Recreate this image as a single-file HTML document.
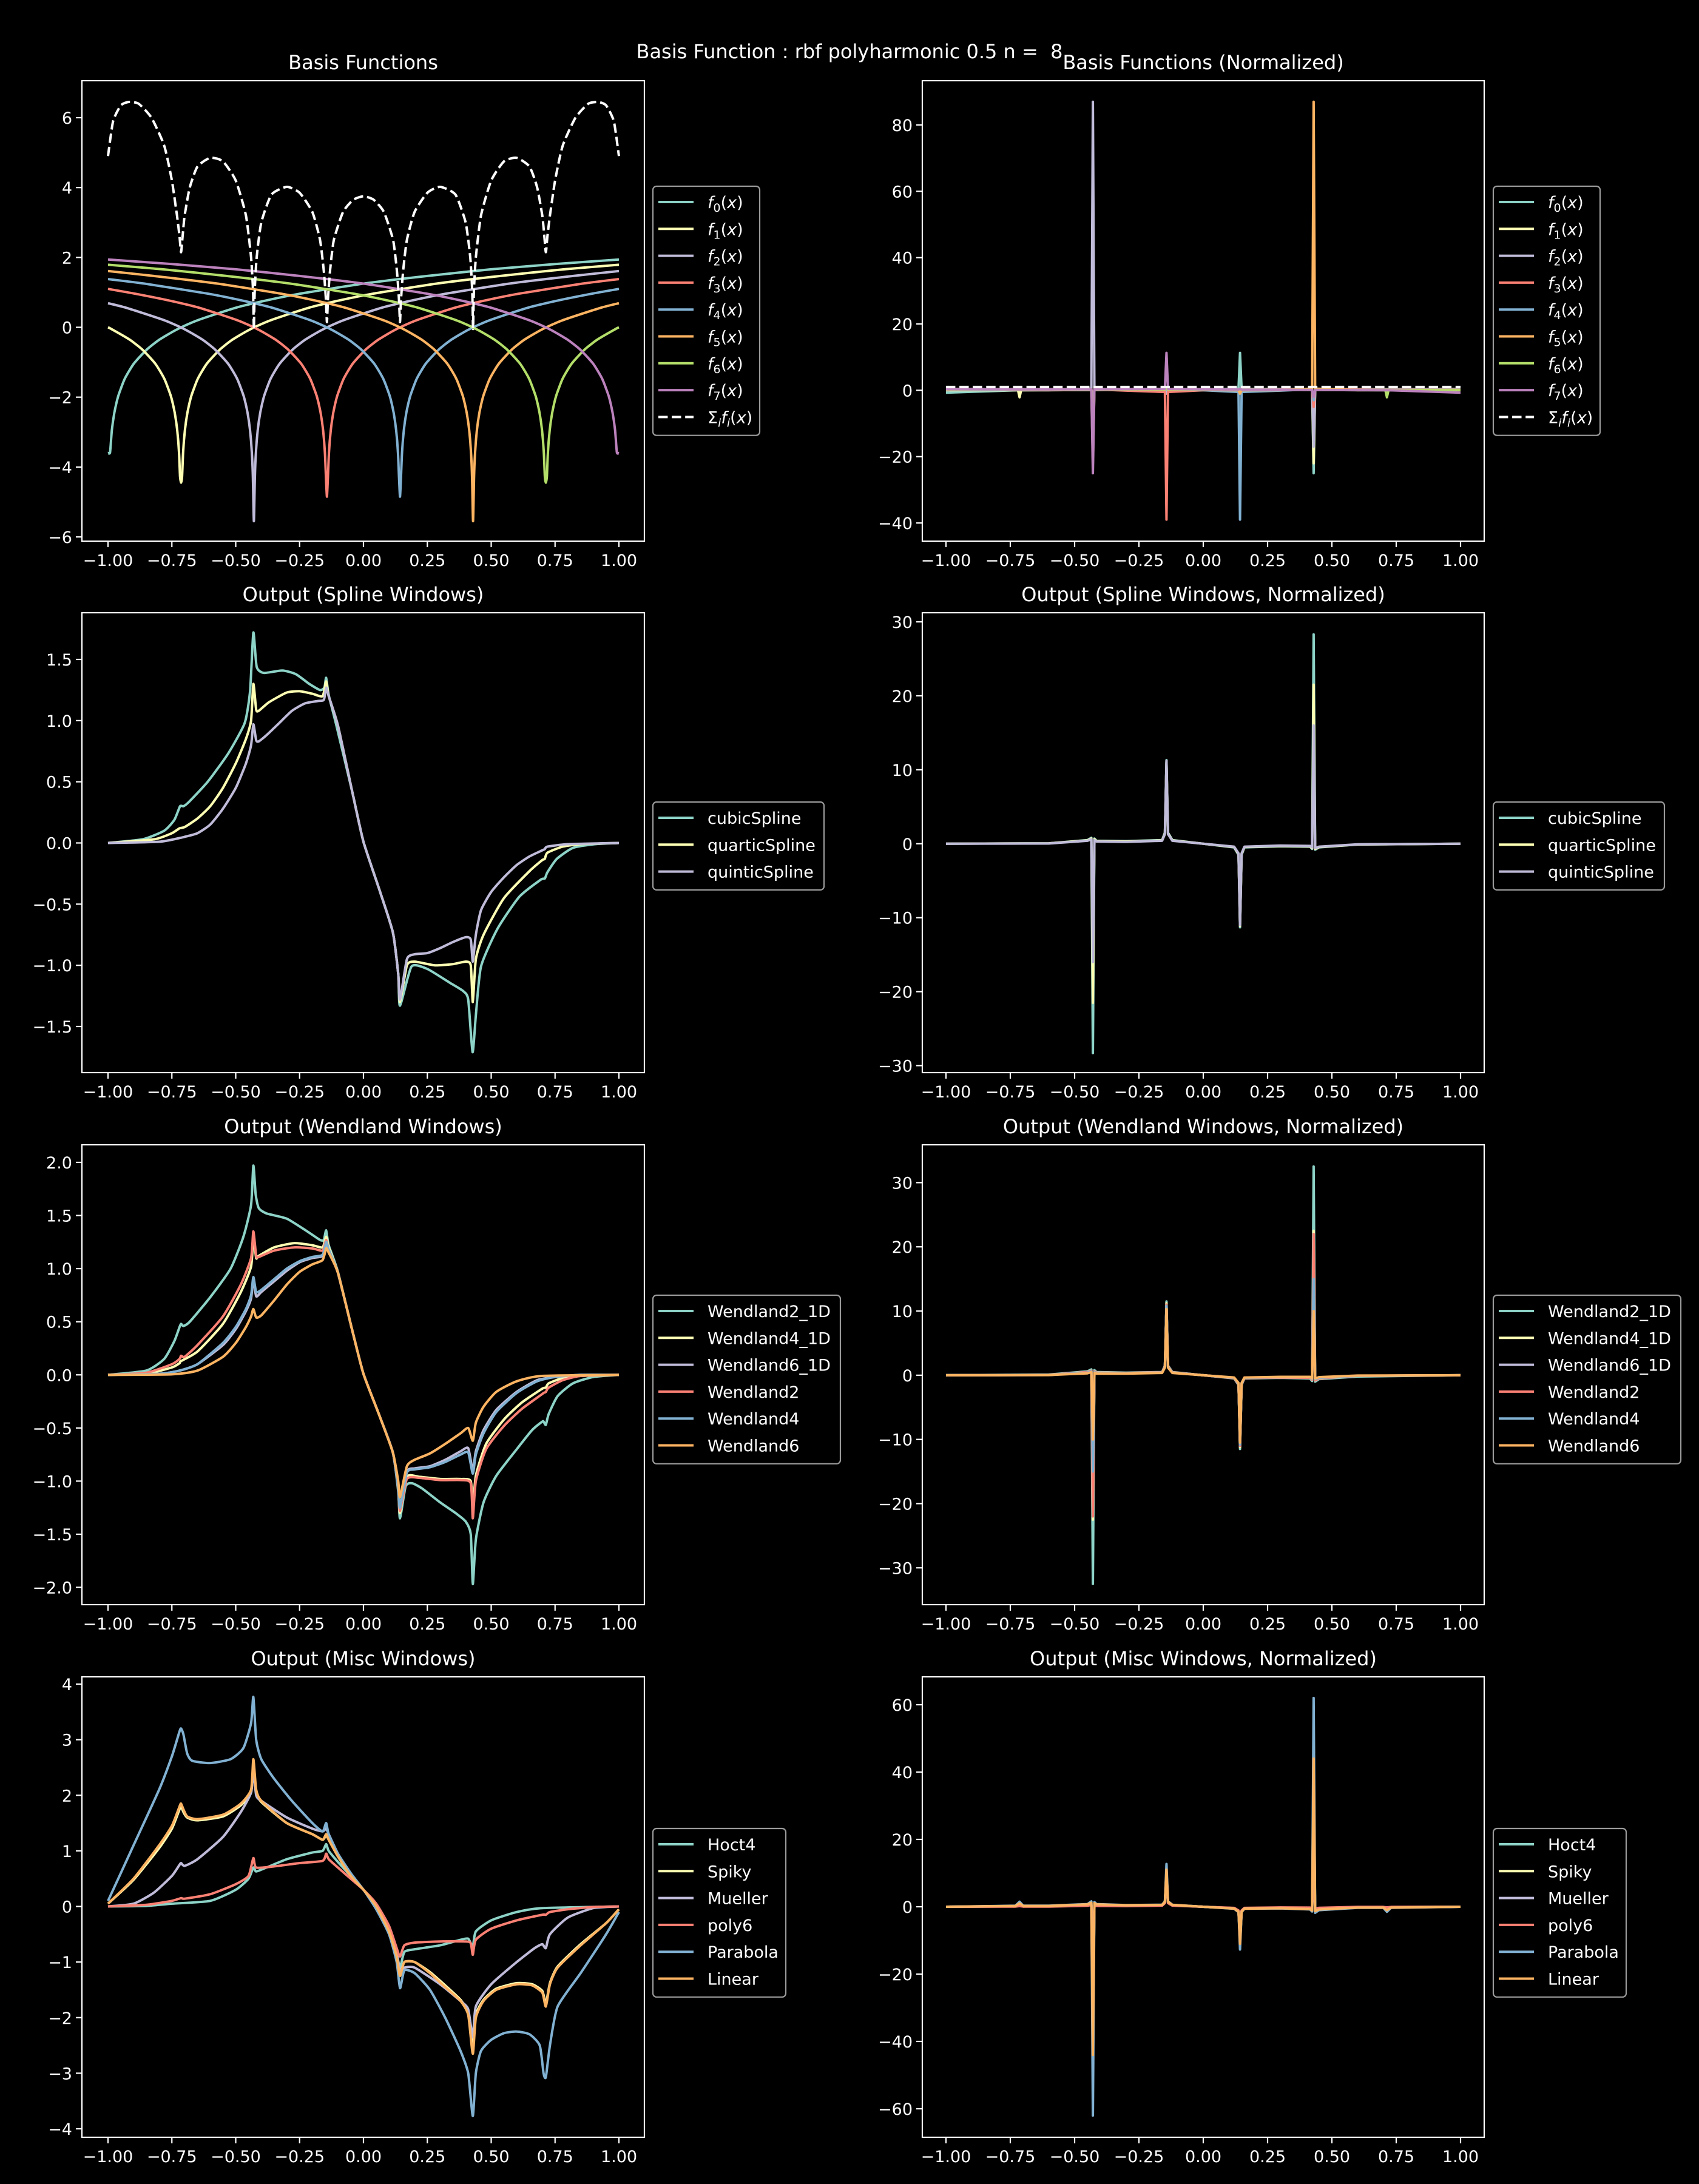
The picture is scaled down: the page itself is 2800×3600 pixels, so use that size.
<!DOCTYPE html>
<html><head><meta charset="utf-8"><style>
html,body{margin:0;padding:0;background:#000;}
svg{display:block;}
text{font-family:"DejaVu Sans","Liberation Sans",sans-serif;fill:#fff;}
</style></head><body>
<svg id="fig" xmlns="http://www.w3.org/2000/svg" width="2800" height="3600" viewBox="0 0 2800 3600">
<rect x="0" y="0" width="2800" height="3600" fill="#000"/>
<text x="1400" y="96" font-size="32" text-anchor="middle" style="white-space:pre" xml:space="preserve">Basis Function : rbf polyharmonic 0.5 n =  8</text>
</svg>
<script>
// ---------- shared tick data ----------
const xTickVals=[-1,-0.75,-0.5,-0.25,0,0.25,0.5,0.75,1];
const xTickLabels=["\u22121.00","\u22120.75","\u22120.50","\u22120.25","0.00","0.25","0.50","0.75","1.00"];
const colors=["#8dd3c7","#feffb3","#bfbbd9","#fa8174","#81b1d2","#fdb462","#b3de69","#bc82bd"];

// ---------- panel 1: basis functions ----------
const f0X=[-1,-0.992,-0.985,-0.975,-0.96,-0.935,-0.9,-0.85,-0.8,-0.73,-0.65,-0.5,-0.38,-0.25,0,0.25,0.5,0.75,1];
const f0Y=[-3.6,-3.58,-2.95,-2.44,-1.97,-1.48,-1.05,-0.65,-0.36,-0.06,0.2,0.56,0.77,0.96,1.25,1.47,1.66,1.81,1.94];
const f1X=[-1,-0.984,-0.914,-0.864,-0.814,-0.779,-0.754,-0.739,-0.729,-0.722,-0.718,-0.714,-0.710,-0.706,-0.699,-0.689,-0.674,-0.649,-0.614,-0.564,-0.514,-0.444,-0.364,-0.214,-0.094,0.036,0.286,0.536,0.786,1];
const f1Y=[0,-0.06,-0.36,-0.65,-1.05,-1.48,-1.97,-2.44,-2.95,-3.58,-4.27,-4.45,-4.27,-3.58,-2.95,-2.44,-1.97,-1.48,-1.05,-0.65,-0.36,-0.06,0.2,0.56,0.77,0.96,1.25,1.47,1.66,1.79];
const f2X=[-1,-0.929,-0.779,-0.699,-0.629,-0.579,-0.529,-0.494,-0.469,-0.454,-0.444,-0.437,-0.433,-0.429,-0.425,-0.421,-0.414,-0.404,-0.389,-0.364,-0.329,-0.279,-0.229,-0.159,-0.079,0.071,0.191,0.321,0.571,0.821,1];
const f2Y=[0.69,0.56,0.2,-0.06,-0.36,-0.65,-1.05,-1.48,-1.97,-2.44,-2.95,-3.58,-4.27,-5.55,-4.27,-3.58,-2.95,-2.44,-1.97,-1.48,-1.05,-0.65,-0.36,-0.06,0.2,0.56,0.77,0.96,1.25,1.47,1.61];
const f3X=[-1,-0.893,-0.763,-0.643,-0.493,-0.413,-0.343,-0.293,-0.243,-0.208,-0.183,-0.168,-0.158,-0.151,-0.147,-0.143,-0.139,-0.135,-0.128,-0.118,-0.103,-0.078,-0.043,0.007,0.057,0.127,0.207,0.357,0.477,0.607,0.857,1];
const f3Y=[1.10,0.96,0.77,0.56,0.2,-0.06,-0.36,-0.65,-1.05,-1.48,-1.97,-2.44,-2.95,-3.58,-4.27,-4.85,-4.27,-3.58,-2.95,-2.44,-1.97,-1.48,-1.05,-0.65,-0.36,-0.06,0.2,0.56,0.77,0.96,1.25,1.38];
const f4X=[-1,-0.857,-0.607,-0.477,-0.357,-0.207,-0.127,-0.057,-0.007,0.043,0.078,0.103,0.118,0.128,0.135,0.139,0.143,0.147,0.151,0.158,0.168,0.183,0.208,0.243,0.293,0.343,0.413,0.493,0.643,0.763,0.893,1];
const f4Y=[1.38,1.25,0.96,0.77,0.56,0.2,-0.06,-0.36,-0.65,-1.05,-1.48,-1.97,-2.44,-2.95,-3.58,-4.27,-4.85,-4.27,-3.58,-2.95,-2.44,-1.97,-1.48,-1.05,-0.65,-0.36,-0.06,0.2,0.56,0.77,0.96,1.10];
const f5X=[-1,-0.821,-0.571,-0.321,-0.191,-0.071,0.079,0.159,0.229,0.279,0.329,0.364,0.389,0.404,0.414,0.421,0.425,0.429,0.433,0.437,0.444,0.454,0.469,0.494,0.529,0.579,0.629,0.699,0.779,0.929,1];
const f5Y=[1.61,1.47,1.25,0.96,0.77,0.56,0.2,-0.06,-0.36,-0.65,-1.05,-1.48,-1.97,-2.44,-2.95,-3.58,-4.27,-5.55,-4.27,-3.58,-2.95,-2.44,-1.97,-1.48,-1.05,-0.65,-0.36,-0.06,0.2,0.56,0.69];
const f6X=[-1,-0.786,-0.536,-0.286,-0.036,0.094,0.214,0.364,0.444,0.514,0.564,0.614,0.649,0.674,0.689,0.699,0.706,0.710,0.714,0.718,0.722,0.729,0.739,0.754,0.779,0.814,0.864,0.914,0.984,1];
const f6Y=[1.79,1.66,1.47,1.25,0.96,0.77,0.56,0.2,-0.06,-0.36,-0.65,-1.05,-1.48,-1.97,-2.44,-2.95,-3.58,-4.27,-4.45,-4.27,-3.58,-2.95,-2.44,-1.97,-1.48,-1.05,-0.65,-0.36,-0.06,0];
const f7X=[-1,-0.75,-0.5,-0.25,0,0.25,0.38,0.5,0.65,0.73,0.8,0.85,0.9,0.935,0.96,0.975,0.985,0.992,1];
const f7Y=[1.94,1.81,1.66,1.47,1.25,0.96,0.77,0.56,0.2,-0.06,-0.36,-0.65,-1.05,-1.48,-1.97,-2.44,-2.95,-3.58,-3.6];
const sumX=[-1,-0.98,-0.95,-0.92,-0.88,-0.83,-0.78,-0.75,-0.73,-0.72,-0.714,-0.708,-0.70,-0.68,-0.65,-0.6,-0.55,-0.5,-0.46,-0.44,-0.432,-0.429,-0.426,-0.418,-0.4,-0.36,-0.3,-0.25,-0.2,-0.17,-0.155,-0.147,-0.143,-0.139,-0.131,-0.116,-0.08,-0.04,0,0.04,0.08,0.116,0.131,0.139,0.143,0.147,0.155,0.17,0.2,0.25,0.3,0.36,0.4,0.418,0.426,0.429,0.432,0.44,0.46,0.5,0.55,0.6,0.65,0.68,0.70,0.708,0.714,0.72,0.73,0.75,0.78,0.83,0.88,0.92,0.95,0.98,1];
const sumY=[4.9,5.9,6.35,6.45,6.4,6.0,5.2,4.2,3.2,2.6,2.15,2.6,3.2,4.0,4.6,4.85,4.75,4.2,3.2,2.0,1.0,-0.05,1.0,2.0,3.0,3.8,4.02,3.85,3.3,2.5,1.6,0.8,0.15,0.8,1.6,2.5,3.3,3.65,3.75,3.65,3.3,2.5,1.6,0.8,0.15,0.8,1.6,2.5,3.3,3.85,4.02,3.8,3.0,2.0,1.0,-0.05,1.0,2.0,3.2,4.2,4.75,4.85,4.6,4.0,3.2,2.6,2.15,2.6,3.2,4.2,5.2,6.0,6.4,6.45,6.35,5.9,4.9];
const p1YTicks=[-6,-4,-2,0,2,4,6];
const p1YLabels=["\u22126","\u22124","\u22122","0","2","4","6"];

// ---------- panel 2: normalized basis ----------
const nX=[-1,-0.72,-0.714,-0.708,-0.6,-0.435,-0.429,-0.423,-0.3,-0.149,-0.143,-0.137,0,0.137,0.143,0.149,0.3,0.423,0.429,0.435,0.6,0.708,0.714,0.72,1];
const n0Y=[-0.7,0,0,0,0.05,0.1,-2,0.1,0.15,0.2,0.5,0.25,0.3,0.4,11.3,0.4,0.35,0.3,-25,0.3,0.3,0.3,0.3,0.3,0.4];
const n1Y=[0,0,-2.1,0,0.05,0.1,-2,0.1,0.15,0.2,0.3,0.2,0.25,0.3,0.5,0.3,0.3,0.3,-22,0.3,0.3,0.3,0.3,0.3,0.37];
const n2Y=[0.14,0.1,0.1,0.1,0.05,0.5,87,0.5,0.05,0,-1,0,0.1,0.2,0.5,0.2,0.25,0.3,-17,0.3,0.3,0.3,0.3,0.3,0.33];
const n3Y=[0.22,0.2,0.2,0.2,0.1,0.3,-3,0.3,-0.1,-0.5,-39,-0.5,0,0.15,0.3,0.15,0.2,0.25,-5,0.25,0.25,0.25,0.25,0.25,0.28];
const n4Y=[0.28,0.25,0.25,0.25,0.25,0.25,-5,0.25,0.2,0.15,0.3,0.15,0,-0.5,-39,-0.5,-0.1,0.3,-3,0.3,0.1,0.2,0.2,0.2,0.22];
const n5Y=[0.33,0.3,0.3,0.3,0.3,0.3,-17,0.3,0.25,0.2,0.5,0.2,0.1,0,-1,0,0.05,0.5,87,0.5,0.05,0.1,0.1,0.1,0.14];
const n6Y=[0.37,0.3,0.3,0.3,0.3,0.3,-22,0.3,0.3,0.3,0.5,0.3,0.25,0.2,0.3,0.2,0.15,0.1,-2,0.1,0.05,0,-2.1,0,0];
const n7Y=[0.4,0.3,0.3,0.3,0.3,0.3,-25,0.3,0.35,0.4,11.3,0.4,0.3,0.25,0.5,0.2,0.15,0.1,-2,0.1,0.05,0,0,0,-0.7];
const nSumX=[-1,1];
const nSumY=[1,1];
const p2YTicks=[-40,-20,0,20,40,60,80];
const p2YLabels=["\u221240","\u221220","0","20","40","60","80"];

// ---------- panel 3: spline windows ----------
const spCubX=[-1,-0.865,-0.78,-0.74,-0.718,-0.705,-0.686,-0.61,-0.53,-0.465,-0.444,-0.431,-0.418,-0.39,-0.318,-0.265,-0.212,-0.17,-0.153,-0.146,-0.136,-0.106,-0.043,0,0.062,0.115,0.136,0.143,0.188,0.25,0.336,0.39,0.41,0.427,0.44,0.46,0.525,0.61,0.694,0.71,0.72,0.757,0.82,0.905,1];
const spCubY=[0,0.03,0.1,0.19,0.3,0.3,0.33,0.5,0.73,0.98,1.24,1.72,1.44,1.39,1.41,1.38,1.30,1.25,1.27,1.35,1.21,0.96,0.41,0.01,-0.38,-0.73,-1.07,-1.33,-1.01,-1.03,-1.14,-1.21,-1.28,-1.71,-1.41,-1.01,-0.70,-0.44,-0.30,-0.29,-0.24,-0.13,-0.04,-0.01,0];
const spQuaX=[-1,-0.82,-0.75,-0.72,-0.70,-0.65,-0.6,-0.55,-0.5,-0.46,-0.44,-0.431,-0.42,-0.41,-0.37,-0.3,-0.25,-0.2,-0.16,-0.146,-0.136,-0.1,-0.043,0,0.062,0.115,0.136,0.143,0.17,0.2,0.28,0.35,0.4,0.42,0.428,0.44,0.47,0.55,0.65,0.7,0.71,0.72,0.78,0.85,1];
const spQuaY=[0,0.03,0.08,0.12,0.13,0.2,0.3,0.45,0.65,0.85,1.0,1.3,1.09,1.08,1.15,1.23,1.24,1.22,1.20,1.32,1.2,0.96,0.41,0.01,-0.38,-0.73,-1.07,-1.30,-1.0,-0.97,-1.0,-0.99,-0.97,-1.0,-1.3,-0.95,-0.75,-0.45,-0.23,-0.14,-0.13,-0.08,-0.03,-0.01,0];
const spQuiX=[-1,-0.8,-0.72,-0.70,-0.65,-0.6,-0.55,-0.5,-0.46,-0.44,-0.431,-0.42,-0.41,-0.38,-0.33,-0.28,-0.23,-0.18,-0.155,-0.146,-0.136,-0.1,-0.043,0,0.062,0.115,0.136,0.143,0.17,0.2,0.25,0.3,0.35,0.4,0.42,0.428,0.44,0.46,0.5,0.55,0.6,0.65,0.7,0.71,0.72,0.8,1];
const spQuiY=[0,0.01,0.04,0.05,0.08,0.15,0.28,0.45,0.65,0.8,0.97,0.84,0.83,0.88,0.98,1.08,1.14,1.16,1.17,1.27,1.2,0.96,0.41,0.01,-0.38,-0.73,-1.07,-1.28,-0.95,-0.91,-0.90,-0.86,-0.81,-0.77,-0.79,-0.97,-0.75,-0.55,-0.4,-0.28,-0.18,-0.11,-0.06,-0.05,-0.03,-0.01,0];
const p3YTicks=[-1.5,-1,-0.5,0,0.5,1,1.5];
const p3YLabels=["\u22121.5","\u22121.0","\u22120.5","0.0","0.5","1.0","1.5"];

// ---------- panel 4: spline normalized ----------
const snX=[-1,-0.6,-0.45,-0.435,-0.429,-0.423,-0.415,-0.3,-0.16,-0.149,-0.143,-0.137,-0.12,0,0.12,0.137,0.143,0.149,0.16,0.3,0.415,0.423,0.429,0.435,0.45,0.6,1];
const snCubY=[0,0.05,0.5,0.8,-28.3,0.7,0.4,0.35,0.5,1.5,11.3,1.5,0.5,0,-0.5,-1.5,-11.3,-1.5,-0.5,-0.35,-0.4,-0.7,28.3,-0.8,-0.5,-0.1,0];
const snQuaY=[0,0.05,0.45,0.7,-21.5,0.6,0.35,0.3,0.45,1.4,11.0,1.4,0.45,0,-0.45,-1.4,-11.1,-1.4,-0.45,-0.3,-0.35,-0.6,21.5,-0.7,-0.45,-0.1,0];
const snQuiY=[0,0.03,0.4,0.6,-16,0.5,0.3,0.25,0.4,1.3,11.2,1.3,0.4,0,-0.4,-1.3,-11.0,-1.3,-0.4,-0.25,-0.3,-0.5,16,-0.6,-0.4,-0.08,0];
const p4YTicks=[-30,-20,-10,0,10,20,30];
const p4YLabels=["\u221230","\u221220","\u221210","0","10","20","30"];

// ---------- panel 5: wendland windows ----------
const w21X=[-1,-0.85,-0.78,-0.74,-0.72,-0.714,-0.705,-0.68,-0.6,-0.52,-0.47,-0.44,-0.431,-0.422,-0.41,-0.38,-0.3,-0.22,-0.17,-0.155,-0.146,-0.136,-0.1,-0.043,0,0.062,0.115,0.136,0.143,0.165,0.19,0.23,0.3,0.36,0.4,0.42,0.428,0.44,0.47,0.52,0.6,0.66,0.70,0.705,0.714,0.725,0.76,0.82,0.9,1];
const w21Y=[0,0.04,0.15,0.32,0.45,0.48,0.46,0.5,0.73,1.0,1.3,1.6,1.97,1.7,1.57,1.52,1.47,1.35,1.27,1.27,1.36,1.22,0.97,0.41,0.01,-0.38,-0.73,-1.1,-1.35,-1.05,-1.02,-1.07,-1.2,-1.3,-1.38,-1.5,-1.97,-1.55,-1.2,-0.95,-0.7,-0.52,-0.44,-0.44,-0.47,-0.37,-0.2,-0.08,-0.02,0];
const w41X=[-1,-0.85,-0.75,-0.72,-0.714,-0.65,-0.55,-0.48,-0.44,-0.431,-0.42,-0.41,-0.35,-0.27,-0.2,-0.16,-0.146,-0.136,-0.1,-0.043,0,0.062,0.115,0.136,0.143,0.17,0.22,0.3,0.38,0.42,0.428,0.44,0.48,0.55,0.62,0.7,0.714,0.725,0.78,0.85,1];
const w41Y=[0,0.01,0.07,0.11,0.13,0.22,0.48,0.78,1.02,1.3,1.1,1.12,1.2,1.24,1.22,1.2,1.3,1.2,0.96,0.41,0.01,-0.38,-0.73,-1.07,-1.3,-0.96,-0.96,-0.98,-0.98,-1.0,-1.25,-0.95,-0.65,-0.42,-0.26,-0.13,-0.12,-0.08,-0.03,-0.01,0];
const w61X=[-1,-0.8,-0.72,-0.65,-0.55,-0.5,-0.46,-0.44,-0.431,-0.42,-0.4,-0.35,-0.3,-0.25,-0.2,-0.16,-0.146,-0.136,-0.1,-0.043,0,0.062,0.115,0.136,0.143,0.17,0.2,0.26,0.32,0.38,0.41,0.428,0.44,0.47,0.52,0.6,0.68,0.75,0.85,1];
const w61Y=[0,0.01,0.04,0.1,0.28,0.43,0.6,0.72,0.9,0.74,0.78,0.88,0.98,1.06,1.1,1.12,1.24,1.17,0.96,0.41,0.01,-0.38,-0.73,-1.07,-1.24,-0.91,-0.88,-0.86,-0.8,-0.72,-0.69,-0.9,-0.72,-0.52,-0.33,-0.16,-0.05,-0.02,0,0];
const w2X=[-1,-0.85,-0.75,-0.72,-0.714,-0.70,-0.65,-0.55,-0.48,-0.44,-0.431,-0.42,-0.41,-0.35,-0.27,-0.2,-0.16,-0.146,-0.136,-0.1,-0.043,0,0.062,0.115,0.136,0.143,0.17,0.22,0.3,0.38,0.42,0.428,0.44,0.48,0.55,0.62,0.7,0.705,0.714,0.725,0.78,0.85,1];
const w2Y=[0,0.02,0.1,0.15,0.18,0.17,0.28,0.55,0.85,1.1,1.35,1.12,1.11,1.17,1.2,1.19,1.17,1.27,1.18,0.96,0.41,0.01,-0.38,-0.73,-1.07,-1.28,-0.98,-0.97,-0.99,-0.99,-1.02,-1.35,-1.0,-0.7,-0.48,-0.32,-0.18,-0.17,-0.16,-0.12,-0.05,-0.01,0];
const w4X=[-1,-0.8,-0.72,-0.65,-0.55,-0.5,-0.46,-0.44,-0.431,-0.42,-0.4,-0.35,-0.3,-0.25,-0.2,-0.16,-0.146,-0.136,-0.1,-0.043,0,0.062,0.115,0.136,0.143,0.17,0.2,0.26,0.32,0.38,0.41,0.428,0.44,0.47,0.52,0.6,0.68,0.75,0.85,1];
const w4Y=[0,0.01,0.04,0.1,0.3,0.45,0.62,0.75,0.92,0.78,0.8,0.9,1.0,1.07,1.11,1.13,1.25,1.18,0.96,0.41,0.01,-0.38,-0.73,-1.07,-1.25,-0.92,-0.89,-0.87,-0.82,-0.75,-0.73,-0.93,-0.75,-0.55,-0.35,-0.17,-0.06,-0.02,0,0];
const w6X=[-1,-0.75,-0.65,-0.55,-0.5,-0.46,-0.44,-0.431,-0.42,-0.4,-0.35,-0.3,-0.25,-0.2,-0.16,-0.146,-0.136,-0.1,-0.043,0,0.062,0.115,0.136,0.143,0.17,0.2,0.26,0.32,0.38,0.41,0.428,0.44,0.47,0.52,0.6,0.7,1];
const w6Y=[0,0.005,0.04,0.17,0.3,0.45,0.55,0.62,0.54,0.56,0.7,0.85,0.97,1.04,1.08,1.19,1.15,0.96,0.41,0.01,-0.38,-0.73,-1.0,-1.15,-0.86,-0.8,-0.74,-0.65,-0.55,-0.5,-0.62,-0.45,-0.3,-0.16,-0.06,-0.01,0];
const p5YTicks=[-2,-1.5,-1,-0.5,0,0.5,1,1.5,2];
const p5YLabels=["\u22122.0","\u22121.5","\u22121.0","\u22120.5","0.0","0.5","1.0","1.5","2.0"];

// ---------- panel 6: wendland normalized ----------
const wnX=[-1,-0.6,-0.45,-0.435,-0.429,-0.423,-0.415,-0.3,-0.16,-0.149,-0.143,-0.137,-0.12,0,0.12,0.137,0.143,0.149,0.16,0.3,0.415,0.423,0.429,0.435,0.45,0.6,1];
const wn21Y=[0,0.1,0.6,0.9,-32.5,0.8,0.5,0.4,0.5,1.5,11.5,1.5,0.5,0,-0.5,-1.5,-11.5,-1.5,-0.5,-0.4,-0.5,-0.9,32.5,-1.0,-0.6,-0.2,0];
const wn41Y=[0,0.05,0.5,0.7,-22.5,0.6,0.4,0.35,0.45,1.4,11.2,1.4,0.45,0,-0.45,-1.4,-11.2,-1.4,-0.45,-0.35,-0.4,-0.7,22.5,-0.8,-0.5,-0.1,0];
const wn61Y=[0,0.03,0.4,0.6,-15.5,0.5,0.3,0.3,0.4,1.3,11.0,1.3,0.4,0,-0.4,-1.3,-11.0,-1.3,-0.4,-0.3,-0.3,-0.6,15.5,-0.6,-0.4,-0.08,0];
const wn2Y=[0,0.05,0.5,0.7,-22,0.6,0.4,0.35,0.45,1.4,11.0,1.4,0.45,0,-0.45,-1.4,-11.0,-1.4,-0.45,-0.35,-0.4,-0.7,22,-0.8,-0.5,-0.1,0];
const wn4Y=[0,0.03,0.4,0.6,-15,0.5,0.3,0.3,0.4,1.3,10.8,1.3,0.4,0,-0.4,-1.3,-10.8,-1.3,-0.4,-0.3,-0.3,-0.6,15,-0.6,-0.4,-0.08,0];
const wn6Y=[0,0.02,0.3,0.5,-10,0.4,0.25,0.25,0.35,1.2,10.3,1.2,0.35,0,-0.35,-1.2,-10.5,-1.2,-0.35,-0.25,-0.25,-0.5,10,-0.5,-0.3,-0.05,0];
const p6YTicks=[-30,-20,-10,0,10,20,30];
const p6YLabels=["\u221230","\u221220","\u221210","0","10","20","30"];

// ---------- panel 7: misc windows ----------
const mHocX=[-1,-0.85,-0.75,-0.6,-0.5,-0.45,-0.431,-0.42,-0.38,-0.3,-0.2,-0.16,-0.146,-0.136,-0.1,-0.05,0,0.05,0.1,0.13,0.143,0.16,0.2,0.3,0.38,0.41,0.428,0.44,0.5,0.6,0.7,1];
const mHocY=[0,0.01,0.05,0.1,0.3,0.5,0.7,0.63,0.7,0.85,0.97,1.0,1.12,1.0,0.8,0.55,0.3,0,-0.45,-0.85,-1.1,-0.82,-0.77,-0.7,-0.6,-0.58,-0.72,-0.45,-0.25,-0.1,-0.03,0];
const mSpiX=[-1,-0.9,-0.8,-0.75,-0.72,-0.714,-0.705,-0.69,-0.65,-0.55,-0.48,-0.44,-0.431,-0.42,-0.4,-0.3,-0.2,-0.16,-0.146,-0.136,-0.1,-0.05,0,0.05,0.1,0.13,0.143,0.16,0.2,0.26,0.32,0.38,0.41,0.428,0.44,0.47,0.52,0.6,0.66,0.7,0.714,0.73,0.76,0.85,0.95,1];
const mSpiY=[0.05,0.48,1.05,1.4,1.75,1.8,1.7,1.6,1.55,1.62,1.82,2.05,2.55,2.05,1.88,1.5,1.3,1.2,1.28,1.2,0.9,0.55,0.3,0,-0.45,-0.9,-1.22,-1.0,-1.0,-1.18,-1.42,-1.68,-1.92,-2.55,-1.95,-1.68,-1.48,-1.38,-1.4,-1.52,-1.75,-1.38,-1.08,-0.68,-0.3,-0.05];
const mMueX=[-1,-0.9,-0.82,-0.75,-0.72,-0.714,-0.70,-0.65,-0.55,-0.48,-0.44,-0.431,-0.42,-0.4,-0.3,-0.2,-0.16,-0.146,-0.136,-0.1,-0.05,0,0.05,0.1,0.13,0.143,0.16,0.2,0.3,0.38,0.41,0.428,0.44,0.5,0.6,0.67,0.7,0.714,0.73,0.8,0.9,1];
const mMueY=[0,0.05,0.25,0.55,0.75,0.78,0.73,0.85,1.25,1.7,2.05,2.45,2.0,1.9,1.6,1.4,1.35,1.4,1.3,0.95,0.58,0.3,0,-0.45,-0.85,-1.15,-1.1,-1.1,-1.4,-1.7,-1.85,-2.35,-1.8,-1.4,-1.0,-0.75,-0.68,-0.75,-0.5,-0.2,-0.03,0];
const mPolX=[-1,-0.85,-0.75,-0.714,-0.70,-0.6,-0.5,-0.45,-0.431,-0.42,-0.35,-0.25,-0.16,-0.146,-0.136,-0.1,-0.05,0,0.05,0.1,0.13,0.143,0.16,0.2,0.3,0.4,0.42,0.428,0.44,0.5,0.6,0.7,0.714,0.73,0.8,0.9,1];
const mPolY=[0,0.03,0.1,0.15,0.14,0.22,0.4,0.55,0.87,0.7,0.72,0.78,0.82,0.95,0.85,0.7,0.5,0.3,0.05,-0.35,-0.75,-0.9,-0.7,-0.65,-0.63,-0.63,-0.66,-0.87,-0.6,-0.4,-0.25,-0.15,-0.15,-0.1,-0.05,-0.01,0];
const mParX=[-1,-0.9,-0.8,-0.75,-0.72,-0.714,-0.705,-0.69,-0.67,-0.6,-0.52,-0.47,-0.44,-0.431,-0.42,-0.4,-0.35,-0.28,-0.2,-0.16,-0.146,-0.136,-0.1,-0.05,0,0.05,0.1,0.13,0.143,0.16,0.2,0.26,0.32,0.38,0.41,0.428,0.44,0.46,0.5,0.55,0.6,0.65,0.69,0.705,0.714,0.73,0.76,0.85,0.95,1];
const mParY=[0.1,1.1,2.1,2.7,3.15,3.2,3.1,2.75,2.62,2.58,2.65,2.85,3.3,3.77,3.0,2.65,2.3,1.9,1.5,1.35,1.5,1.3,0.95,0.6,0.3,-0.05,-0.5,-1.0,-1.47,-1.15,-1.2,-1.5,-2.0,-2.6,-3.0,-3.77,-3.0,-2.6,-2.4,-2.28,-2.25,-2.3,-2.5,-3.0,-3.07,-2.5,-1.8,-1.2,-0.5,-0.1];
const mLinX=[-1,-0.9,-0.8,-0.75,-0.72,-0.714,-0.705,-0.69,-0.65,-0.55,-0.48,-0.44,-0.431,-0.42,-0.4,-0.3,-0.2,-0.16,-0.146,-0.136,-0.1,-0.05,0,0.05,0.1,0.13,0.143,0.16,0.2,0.26,0.32,0.38,0.41,0.428,0.44,0.47,0.52,0.6,0.66,0.7,0.714,0.73,0.76,0.85,0.95,1];
const mLinY=[0.05,0.5,1.1,1.45,1.8,1.85,1.75,1.62,1.57,1.65,1.85,2.1,2.65,2.1,1.9,1.5,1.3,1.2,1.3,1.2,0.9,0.55,0.3,0,-0.45,-0.9,-1.25,-1.0,-1.0,-1.2,-1.45,-1.7,-1.95,-2.65,-2.0,-1.7,-1.5,-1.4,-1.42,-1.55,-1.8,-1.4,-1.1,-0.7,-0.3,-0.05];
const p7YTicks=[-4,-3,-2,-1,0,1,2,3,4];
const p7YLabels=["\u22124","\u22123","\u22122","\u22121","0","1","2","3","4"];

// ---------- panel 8: misc normalized ----------
const mnX=[-1,-0.73,-0.714,-0.70,-0.6,-0.45,-0.435,-0.429,-0.423,-0.415,-0.3,-0.16,-0.149,-0.143,-0.137,-0.12,0,0.12,0.137,0.143,0.149,0.16,0.3,0.415,0.423,0.429,0.435,0.45,0.6,0.70,0.714,0.73,1];
const mnHocY=[0,0.1,0.3,0.1,0.1,0.4,0.6,-10,0.5,0.3,0.25,0.4,1.2,10,1.2,0.4,0,-0.4,-1.2,-10,-1.2,-0.4,-0.25,-0.3,-0.5,10,-0.6,-0.4,-0.1,-0.1,-0.3,-0.1,0];
const mnSpiY=[0,0.2,0.8,0.2,0.2,0.6,1.0,-40,0.8,0.5,0.4,0.5,1.4,11,1.4,0.5,0,-0.5,-1.4,-11,-1.4,-0.5,-0.4,-0.5,-0.8,40,-1.0,-0.6,-0.2,-0.2,-0.8,-0.2,0];
const mnMueY=[0,0.2,0.6,0.2,0.2,0.5,0.9,-30,0.7,0.4,0.35,0.45,1.3,10.5,1.3,0.45,0,-0.45,-1.3,-10.5,-1.3,-0.45,-0.35,-0.4,-0.7,30,-0.9,-0.5,-0.15,-0.2,-0.6,-0.2,0];
const mnPolY=[0,0.05,0.2,0.05,0.05,0.3,0.5,-12,0.4,0.25,0.2,0.35,1.1,9.5,1.1,0.35,0,-0.35,-1.1,-9.5,-1.1,-0.35,-0.2,-0.25,-0.4,12,-0.5,-0.3,-0.05,-0.05,-0.2,-0.05,0];
const mnParY=[0,0.3,1.5,0.3,0.3,0.8,1.6,-62,1.4,0.8,0.5,0.6,1.6,12.7,1.6,0.6,0,-0.6,-1.6,-12.7,-1.6,-0.6,-0.5,-0.8,-1.4,62,-1.8,-1.0,-0.3,-0.3,-1.5,-0.3,0];
const mnLinY=[0,0.25,1.0,0.25,0.25,0.7,1.2,-44,1.1,0.7,0.45,0.55,1.5,11,1.5,0.55,0,-0.55,-1.5,-11,-1.5,-0.55,-0.45,-0.7,-1.1,44,-1.3,-0.8,-0.25,-0.25,-1.0,-0.25,0];
const p8YTicks=[-60,-40,-20,0,20,40,60];
const p8YLabels=["\u221260","\u221240","\u221220","0","20","40","60"];

// ---------- rendering ----------
const NS="http://www.w3.org/2000/svg";
const svg=document.getElementById("fig");
function el(tag,attrs,parent){const e=document.createElementNS(NS,tag);for(const k in attrs)e.setAttribute(k,attrs[k]);(parent||svg).appendChild(e);return e;}
let clipId=0;

function pathFor(pts,smooth){
  let d="M"+pts[0][0].toFixed(1)+" "+pts[0][1].toFixed(1);
  for(let i=1;i<pts.length;i++){
    if(!smooth){d+="L"+pts[i][0].toFixed(1)+" "+pts[i][1].toFixed(1);continue;}
    const p0=pts[Math.max(0,i-2)],p1=pts[i-1],p2=pts[i],p3=pts[Math.min(pts.length-1,i+1)];
    const t=0.3;
    const c1x=p1[0]+(p2[0]-p0[0])*t/2*0.66,c1y=p1[1]+(p2[1]-p0[1])*t/2*0.66;
    const c2x=p2[0]-(p3[0]-p1[0])*t/2*0.66,c2y=p2[1]-(p3[1]-p1[1])*t/2*0.66;
    d+="C"+c1x.toFixed(1)+" "+c1y.toFixed(1)+" "+c2x.toFixed(1)+" "+c2y.toFixed(1)+" "+p2[0].toFixed(1)+" "+p2[1].toFixed(1);
  }
  return d;
}

function drawPanel(cfg){
  const g=el("g",{});
  
  
  const xs=v=>cfg.xpx[0]+(v+1)/2*(cfg.xpx[1]-cfg.xpx[0]);
  const ys=v=>cfg.ymap[1]+(v-cfg.ymap[0])*(cfg.ymap[3]-cfg.ymap[1])/(cfg.ymap[2]-cfg.ymap[0]);
  const b=cfg.box;
  const t=el("text",{x:(b[0]+b[2])/2,y:b[1]-19,"font-size":32,"text-anchor":"middle"},g);
  t.textContent=cfg.title;
  
  
  clipId++;
  const cp=el("clipPath",{id:"c"+clipId},g);
  el("rect",{x:b[0],y:b[1],width:b[2]-b[0],height:b[3]-b[1]},cp);
  const lines=el("g",{"clip-path":"url(#c"+clipId+")"},g);
  
  
  cfg.series.forEach(s=>{
    const n=Math.min(s.x.length,s.y.length);
    const pts=[];
    for(let i=0;i<n;i++)pts.push([xs(s.x[i]),ys(s.y[i])]);
    const p=el("path",{d:pathFor(pts,cfg.smooth),fill:"none",stroke:s.color,"stroke-width":4,"stroke-linejoin":"round"},lines);
    if(s.dash)p.setAttribute("stroke-dasharray","15.4 6.7");
    
    
  });
  const sp=el("rect",{x:b[0],y:b[1],width:b[2]-b[0],height:b[3]-b[1],fill:"none",stroke:"#fff","stroke-width":2.2},g);
  
  
  const xa=el("g",{},g);
  
  
  xTickVals.forEach((v,i)=>{
    const px=xs(v);
    el("line",{x1:px,y1:b[3],x2:px,y2:b[3]+10,stroke:"#fff","stroke-width":2.2},xa);
    const tl=el("text",{x:px,y:b[3]+41,"font-size":27,"text-anchor":"middle"},xa);
    tl.textContent=xTickLabels[i];
    
    
  });
  const ya=el("g",{},g);
  
  
  cfg.yticks.forEach((v,i)=>{
    const py=ys(v);
    el("line",{x1:b[0]-10,y1:py,x2:b[0],y2:py,stroke:"#fff","stroke-width":2.2},ya);
    const tl=el("text",{x:b[0]-16,y:py+10,"font-size":27,"text-anchor":"end"},ya);
    tl.textContent=cfg.ylabels[i];
    
    
  });
  const L=cfg.legend;
  const lg=el("g",{},g);
  
  
  const n=cfg.series.length;
  const h=n*44.3+12;
  el("rect",{x:L[0],y:L[1],width:L[2],height:h,rx:6,fill:"#000","fill-opacity":0.8,stroke:"#9a9a9a","stroke-width":2.2},lg);
  cfg.series.forEach((s,i)=>{
    const cy=L[1]+26+i*44.3;
    const ln=el("line",{x1:L[0]+9,y1:cy,x2:L[0]+67,y2:cy,stroke:s.color,"stroke-width":4},lg);
    if(s.dash)ln.setAttribute("stroke-dasharray","15.4 6.7");
    const tx=el("text",{x:L[0]+90,y:cy+10,"font-size":27},lg);
    if(s.math!==undefined){
      if(s.math==="sum"){
        tx.innerHTML='\u03A3<tspan font-size="19" dy="6" font-style="italic">i</tspan><tspan dy="-6" font-style="italic">f</tspan><tspan font-size="19" dy="6" font-style="italic">i</tspan><tspan dy="-6">(</tspan><tspan font-style="italic">x</tspan>)';
      } else {
        tx.innerHTML='<tspan font-style="italic">f</tspan><tspan font-size="19" dy="6">'+s.math+'</tspan><tspan dy="-6">(</tspan><tspan font-style="italic">x</tspan>)';
      }
    } else tx.textContent=s.label;
    
    
  });
}

const LBOXX=[135,1062], RBOXX=[1520,2446], LX=[178,1020], RX=[1559,2407];

drawPanel({name:"basis-functions-panel",title:"Basis Functions",smooth:true,box:[LBOXX[0],133,LBOXX[1],892],xpx:LX,ymap:[6,194,-6,885],
 yticks:p1YTicks,ylabels:p1YLabels,legend:[1076,307,176],
 series:[{key:"f0-line",color:colors[0],x:f0X,y:f0Y,math:"0"},{key:"f1-line",color:colors[1],x:f1X,y:f1Y,math:"1"},
 {key:"f2-line",color:colors[2],x:f2X,y:f2Y,math:"2"},{key:"f3-line",color:colors[3],x:f3X,y:f3Y,math:"3"},
 {key:"f4-line",color:colors[4],x:f4X,y:f4Y,math:"4"},{key:"f5-line",color:colors[5],x:f5X,y:f5Y,math:"5"},
 {key:"f6-line",color:colors[6],x:f6X,y:f6Y,math:"6"},{key:"f7-line",color:colors[7],x:f7X,y:f7Y,math:"7"},
 {key:"sum-line",color:"#fff",x:sumX,y:sumY,dash:true,math:"sum"}]});

drawPanel({name:"basis-functions-normalized-panel",title:"Basis Functions (Normalized)",box:[RBOXX[0],133,RBOXX[1],892],xpx:RX,ymap:[80,206,-40,862],
 yticks:p2YTicks,ylabels:p2YLabels,legend:[2461,307,176],
 series:[{key:"f0-norm-line",color:colors[0],x:nX,y:n0Y,math:"0"},{key:"f1-norm-line",color:colors[1],x:nX,y:n1Y,math:"1"},
 {key:"f2-norm-line",color:colors[2],x:nX,y:n2Y,math:"2"},{key:"f3-norm-line",color:colors[3],x:nX,y:n3Y,math:"3"},
 {key:"f4-norm-line",color:colors[4],x:nX,y:n4Y,math:"4"},{key:"f5-norm-line",color:colors[5],x:nX,y:n5Y,math:"5"},
 {key:"f6-norm-line",color:colors[6],x:nX,y:n6Y,math:"6"},{key:"f7-norm-line",color:colors[7],x:nX,y:n7Y,math:"7"},
 {key:"sum-norm-line",color:"#fff",x:nSumX,y:nSumY,dash:true,math:"sum"}]});

drawPanel({name:"spline-windows-panel",title:"Output (Spline Windows)",smooth:true,box:[LBOXX[0],1010,LBOXX[1],1768],xpx:LX,ymap:[1.5,1087,-1.5,1692],
 yticks:p3YTicks,ylabels:p3YLabels,legend:[1076,1322,282],
 series:[{key:"cubicSpline-line",color:colors[0],x:spCubX,y:spCubY,label:"cubicSpline"},
 {key:"quarticSpline-line",color:colors[1],x:spQuaX,y:spQuaY,label:"quarticSpline"},
 {key:"quinticSpline-line",color:colors[2],x:spQuiX,y:spQuiY,label:"quinticSpline"}]});

drawPanel({name:"spline-windows-normalized-panel",title:"Output (Spline Windows, Normalized)",box:[RBOXX[0],1010,RBOXX[1],1768],xpx:RX,ymap:[30,1025,-30,1756.5],
 yticks:p4YTicks,ylabels:p4YLabels,legend:[2461,1322,282],
 series:[{key:"cubicSpline-norm-line",color:colors[0],x:snX,y:snCubY,label:"cubicSpline"},
 {key:"quarticSpline-norm-line",color:colors[1],x:snX,y:snQuaY,label:"quarticSpline"},
 {key:"quinticSpline-norm-line",color:colors[2],x:snX,y:snQuiY,label:"quinticSpline"}]});

drawPanel({name:"wendland-windows-panel",title:"Output (Wendland Windows)",smooth:true,box:[LBOXX[0],1887,LBOXX[1],2645],xpx:LX,ymap:[2,1916,-2,2616.5],
 yticks:p5YTicks,ylabels:p5YLabels,legend:[1076,2135,309],
 series:[{key:"wendland2-1d-line",color:colors[0],x:w21X,y:w21Y,label:"Wendland2_1D"},
 {key:"wendland4-1d-line",color:colors[1],x:w41X,y:w41Y,label:"Wendland4_1D"},
 {key:"wendland6-1d-line",color:colors[2],x:w61X,y:w61Y,label:"Wendland6_1D"},
 {key:"wendland2-line",color:colors[3],x:w2X,y:w2Y,label:"Wendland2"},
 {key:"wendland4-line",color:colors[4],x:w4X,y:w4Y,label:"Wendland4"},
 {key:"wendland6-line",color:colors[5],x:w6X,y:w6Y,label:"Wendland6"}]});

drawPanel({name:"wendland-windows-normalized-panel",title:"Output (Wendland Windows, Normalized)",box:[RBOXX[0],1887,RBOXX[1],2645],xpx:RX,ymap:[30,1949.4,-30,2584.3],
 yticks:p6YTicks,ylabels:p6YLabels,legend:[2461,2135,309],
 series:[{key:"wendland2-1d-norm-line",color:colors[0],x:wnX,y:wn21Y,label:"Wendland2_1D"},
 {key:"wendland4-1d-norm-line",color:colors[1],x:wnX,y:wn41Y,label:"Wendland4_1D"},
 {key:"wendland6-1d-norm-line",color:colors[2],x:wnX,y:wn61Y,label:"Wendland6_1D"},
 {key:"wendland2-norm-line",color:colors[3],x:wnX,y:wn2Y,label:"Wendland2"},
 {key:"wendland4-norm-line",color:colors[4],x:wnX,y:wn4Y,label:"Wendland4"},
 {key:"wendland6-norm-line",color:colors[5],x:wnX,y:wn6Y,label:"Wendland6"}]});

drawPanel({name:"misc-windows-panel",title:"Output (Misc Windows)",smooth:true,box:[LBOXX[0],2764,LBOXX[1],3523],xpx:LX,ymap:[4,2776,-4,3509],
 yticks:p7YTicks,ylabels:p7YLabels,legend:[1076,3014,219],
 series:[{key:"hoct4-line",color:colors[0],x:mHocX,y:mHocY,label:"Hoct4"},
 {key:"spiky-line",color:colors[1],x:mSpiX,y:mSpiY,label:"Spiky"},
 {key:"mueller-line",color:colors[2],x:mMueX,y:mMueY,label:"Mueller"},
 {key:"poly6-line",color:colors[3],x:mPolX,y:mPolY,label:"poly6"},
 {key:"parabola-line",color:colors[4],x:mParX,y:mParY,label:"Parabola"},
 {key:"linear-line",color:colors[5],x:mLinX,y:mLinY,label:"Linear"}]});

drawPanel({name:"misc-windows-normalized-panel",title:"Output (Misc Windows, Normalized)",box:[RBOXX[0],2764,RBOXX[1],3523],xpx:RX,ymap:[60,2810,-60,3476],
 yticks:p8YTicks,ylabels:p8YLabels,legend:[2461,3014,219],
 series:[{key:"hoct4-norm-line",color:colors[0],x:mnX,y:mnHocY,label:"Hoct4"},
 {key:"spiky-norm-line",color:colors[1],x:mnX,y:mnSpiY,label:"Spiky"},
 {key:"mueller-norm-line",color:colors[2],x:mnX,y:mnMueY,label:"Mueller"},
 {key:"poly6-norm-line",color:colors[3],x:mnX,y:mnPolY,label:"poly6"},
 {key:"parabola-norm-line",color:colors[4],x:mnX,y:mnParY,label:"Parabola"},
 {key:"linear-norm-line",color:colors[5],x:mnX,y:mnLinY,label:"Linear"}]});
</script>
</body></html>
